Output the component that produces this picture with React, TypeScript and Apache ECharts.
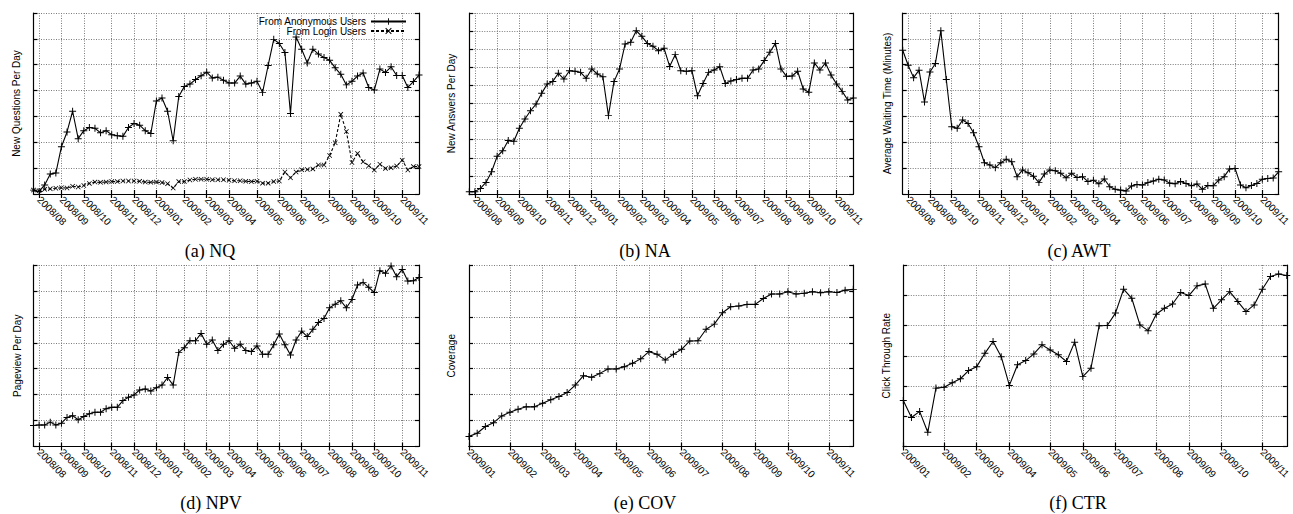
import React, { useEffect, useRef } from "react";
import * as echarts from "echarts";

const FONT = '"Liberation Sans", Arial, Helvetica, sans-serif';
const SERIF = '"Liberation Serif", "Times New Roman", serif';

// Weekly categories
const weeksLong = Array.from({ length: 70 }, (_, i) => `W${i + 1}`);
const weeksShort = Array.from({ length: 48 }, (_, i) => `W${i + 1}`);

// Month ticks (week index where each month starts)
const monthWeeksLong = [1, 5, 9, 14, 18, 22, 27, 31, 35, 40, 44, 48, 53, 57, 61, 66];
const monthLabelsLong = [
  "2008/08", "2008/09", "2008/10", "2008/11", "2008/12", "2009/01", "2009/02", "2009/03",
  "2009/04", "2009/05", "2009/06", "2009/07", "2009/08", "2009/09", "2009/10", "2009/11",
];
const monthWeeksShort = [0, 5, 9, 13, 18, 22, 26, 31, 35, 39, 44];
const monthLabelsShort = [
  "2009/01", "2009/02", "2009/03", "2009/04", "2009/05", "2009/06",
  "2009/07", "2009/08", "2009/09", "2009/10", "2009/11",
];

// (a) NQ
const nqAnonymous = [
  0.15, 0.1, 0.35, 0.77, 0.81, 1.83, 2.4, 3.2, 2.14, 2.45,
  2.57, 2.54, 2.37, 2.45, 2.29, 2.25, 2.23, 2.57, 2.73, 2.66,
  2.45, 2.34, 3.6, 3.71, 3.2, 2.06, 3.77, 4.16, 4.25, 4.43,
  4.57, 4.71, 4.49, 4.52, 4.4, 4.29, 4.29, 4.56, 4.25, 4.29,
  4.36, 3.93, 4.97, 5.98, 5.82, 5.47, 3.11, 6.07, 5.6, 5.07,
  5.6, 5.41, 5.28, 5.17, 4.88, 4.63, 4.22, 4.36, 4.56, 4.68,
  4.12, 4.02, 4.83, 4.7, 4.92, 4.58, 4.58, 4.12, 4.35, 4.6,
];
const nqLogin = [
  0.15, 0.13, 0.18, 0.2, 0.22, 0.24, 0.23, 0.3, 0.27, 0.33,
  0.41, 0.46, 0.45, 0.46, 0.48, 0.48, 0.5, 0.5, 0.5, 0.49,
  0.46, 0.45, 0.46, 0.44, 0.4, 0.23, 0.48, 0.48, 0.54, 0.57,
  0.57, 0.57, 0.55, 0.55, 0.55, 0.53, 0.51, 0.51, 0.49, 0.48,
  0.49, 0.42, 0.42, 0.48, 0.5, 0.85, 0.63, 0.85, 0.94, 0.95,
  0.97, 1.12, 1.12, 1.49, 1.98, 3.08, 2.42, 1.22, 1.57, 1.25,
  1.09, 0.93, 1.15, 0.99, 1.02, 1.08, 1.31, 0.93, 1.06, 1.06,
];
// (b) NA
const naValues = [
  0.13, 0.13, 0.31, 0.64, 1.23, 2.08, 2.39, 2.95, 2.91, 3.63,
  4.14, 4.6, 4.97, 5.56, 6.08, 6.22, 6.67, 6.35, 6.81, 6.78,
  6.72, 6.39, 6.91, 6.63, 6.48, 4.33, 6.21, 6.91, 8.29, 8.38,
  9.02, 8.71, 8.32, 8.16, 7.92, 8.05, 7.05, 7.7, 6.81, 6.78,
  6.81, 5.43, 6.11, 6.72, 6.85, 7.03, 6.11, 6.24, 6.32, 6.39,
  6.39, 6.85, 6.91, 7.37, 7.83, 8.32, 6.91, 6.5, 6.52, 6.78,
  5.8, 5.62, 7.24, 6.85, 7.24, 6.57, 6.08, 5.67, 5.19, 5.3,
];
// (c) AWT
const awtValues = [
  5.56, 4.98, 4.5, 4.79, 3.56, 4.72, 5.05, 6.31, 4.43, 2.6,
  2.54, 2.86, 2.73, 2.37, 1.83, 1.21, 1.12, 1.02, 1.21, 1.34,
  1.25, 0.67, 0.93, 0.82, 0.69, 0.44, 0.77, 0.93, 0.9, 0.8,
  0.63, 0.8, 0.64, 0.67, 0.48, 0.53, 0.4, 0.58, 0.28, 0.18,
  0.15, 0.12, 0.31, 0.37, 0.35, 0.44, 0.5, 0.57, 0.54, 0.42,
  0.4, 0.48, 0.41, 0.32, 0.39, 0.18, 0.33, 0.32, 0.54, 0.67,
  0.97, 0.99, 0.35, 0.24, 0.33, 0.41, 0.57, 0.6, 0.62, 0.86,
];
// (d) NPV
const npvValues = [
  0.81, 0.83, 0.83, 0.94, 0.83, 0.9, 1.12, 1.19, 1.03, 1.16,
  1.26, 1.32, 1.32, 1.46, 1.51, 1.51, 1.77, 1.9, 1.99, 2.18,
  2.22, 2.14, 2.27, 2.37, 2.66, 2.37, 3.63, 3.81, 4.08, 4.08,
  4.36, 3.94, 4.11, 3.7, 3.94, 4.08, 3.79, 3.94, 3.7, 3.66,
  3.88, 3.56, 3.56, 3.92, 4.34, 3.92, 3.53, 4.11, 4.45, 4.24,
  4.52, 4.78, 4.94, 5.35, 5.49, 5.62, 5.35, 5.67, 6.23, 6.33,
  6.14, 5.94, 6.78, 6.68, 6.96, 6.55, 6.83, 6.38, 6.39, 6.52,
];
// (e) COV
const covValues = [
  0.39, 0.51, 0.77, 0.92, 1.18, 1.32, 1.44, 1.53, 1.53, 1.67,
  1.8, 1.93, 2.08, 2.37, 2.73, 2.67, 2.82, 2.99, 2.99, 3.08,
  3.21, 3.38, 3.66, 3.56, 3.34, 3.56, 3.75, 4.07, 4.08, 4.52,
  4.72, 5.16, 5.39, 5.42, 5.48, 5.48, 5.71, 5.88, 5.88, 5.97,
  5.88, 5.91, 5.97, 5.93, 5.97, 5.94, 6.03, 6.06,
];
// (f) CTR
const ctrValues = [
  1.52, 0.96, 1.16, 0.47, 1.93, 1.96, 2.11, 2.24, 2.51, 2.64,
  3.08, 3.47, 2.97, 2.02, 2.7, 2.84, 3.06, 3.36, 3.19, 3.03,
  2.81, 3.45, 2.31, 2.59, 3.99, 4.0, 4.41, 5.2, 4.9, 4.02,
  3.83, 4.37, 4.57, 4.71, 5.09, 4.99, 5.31, 5.37, 4.57, 4.85,
  5.12, 4.79, 4.46, 4.68, 5.2, 5.62, 5.7, 5.65,
];

const PLUS = "path://M4.3,0H5.7V10H4.3Z M0,4.3H10V5.7H0Z";
const CROSS = "path://M0,1.1L1.1,0L10,8.9L8.9,10Z M8.9,0L10,1.1L1.1,10L0,8.9Z";

type S = { name: string; data: number[]; symbol: string; size: number; dashed?: boolean };
type Panel = {
  left: number; top: number; width: number; height: number;
  cats: string[]; ticks: number[]; tickLabels: string[];
  yMax: number; yName: string; nameGap: number;
  caption: string; capX: number; capY: number;
  series: S[];
};

const panels: Panel[] = [
  {
    left: 33.5, top: 13, width: 385.5, height: 181, cats: weeksLong, ticks: monthWeeksLong, tickLabels: monthLabelsLong,
    yMax: 7, yName: "New Questions Per Day", nameGap: 12, caption: "(a) NQ", capX: 210, capY: 251,
    series: [
      { name: "From Anonymous Users", data: nqAnonymous, symbol: PLUS, size: 7 },
      { name: "From Login Users", data: nqLogin, symbol: CROSS, size: 5, dashed: true },
    ],
  },
  {
    left: 469.3, top: 13, width: 384, height: 181, cats: weeksLong, ticks: monthWeeksLong, tickLabels: monthLabelsLong,
    yMax: 10, yName: "New Answers Per Day", nameGap: 13, caption: "(b) NA", capX: 645, capY: 251,
    series: [{ name: "NA", data: naValues, symbol: PLUS, size: 7 }],
  },
  {
    left: 902.7, top: 13, width: 385.6, height: 181, cats: weeksLong, ticks: monthWeeksLong, tickLabels: monthLabelsLong,
    yMax: 7, yName: "Average Waiting Time (Minutes)", nameGap: 10.5, caption: "(c) AWT", capX: 1079, capY: 251,
    series: [{ name: "AWT", data: awtValues, symbol: PLUS, size: 7 }],
  },
  {
    left: 33.5, top: 265, width: 385.5, height: 181.5, cats: weeksLong, ticks: monthWeeksLong, tickLabels: monthLabelsLong,
    yMax: 7, yName: "Pageview Per Day", nameGap: 11.5, caption: "(d) NPV", capX: 211, capY: 503,
    series: [{ name: "NPV", data: npvValues, symbol: PLUS, size: 7 }],
  },
  {
    left: 469, top: 265, width: 384.3, height: 181.5, cats: weeksShort, ticks: monthWeeksShort, tickLabels: monthLabelsShort,
    yMax: 7, yName: "Coverage", nameGap: 13, caption: "(e) COV", capX: 645, capY: 503,
    series: [{ name: "COV", data: covValues, symbol: PLUS, size: 7 }],
  },
  {
    left: 903.3, top: 265, width: 385, height: 181.5, cats: weeksShort, ticks: monthWeeksShort, tickLabels: monthLabelsShort,
    yMax: 6, yName: "Click Through Rate", nameGap: 11.5, caption: "(f) CTR", capX: 1078, capY: 503,
    series: [{ name: "CTR", data: ctrValues, symbol: PLUS, size: 7 }],
  },
];

const GRID_LINE = { color: "#7a7a7a", type: [1, 1.5] as number[], width: 1 };
const AXIS_LINE = { color: "#000", width: 1.2 };

function buildOption() {
  const grid: any[] = [];
  const xAxis: any[] = [];
  const yAxis: any[] = [];
  const series: any[] = [];
  const graphic: any[] = [];

  panels.forEach((p, k) => {
    grid.push({ left: p.left, top: p.top, width: p.width, height: p.height, containLabel: false });
    const labelMap = new Map<number, string>(p.ticks.map((t, j) => [t, p.tickLabels[j]]));
    const isTick = (i: number) => labelMap.has(i);
    xAxis.push({
      type: "category", gridIndex: k, data: p.cats, boundaryGap: false, position: "bottom",
      axisLine: { show: true, lineStyle: AXIS_LINE },
      axisTick: { show: true, inside: true, length: 4, interval: isTick, lineStyle: AXIS_LINE },
      axisLabel: {
        show: true, interval: isTick, rotate: -45, margin: 4, fontSize: 10, fontFamily: FONT, color: "#000",
        formatter: (_v: string, i: number) => labelMap.get(i) ?? "",
      },
      splitLine: { show: true, interval: isTick, lineStyle: GRID_LINE },
    });
    xAxis.push({
      type: "category", gridIndex: k, data: p.cats, boundaryGap: false, position: "top",
      axisLine: { show: true, lineStyle: AXIS_LINE },
      axisTick: { show: true, inside: true, length: 4, interval: isTick, lineStyle: AXIS_LINE },
      axisLabel: { show: false },
      splitLine: { show: false },
    });
    yAxis.push({
      type: "value", gridIndex: k, min: 0, max: p.yMax, interval: 1, position: "left",
      name: p.yName, nameLocation: "middle", nameRotate: 90, nameGap: p.nameGap,
      nameTextStyle: { fontSize: 10, fontFamily: FONT, color: "#000" },
      axisLine: { show: true, lineStyle: AXIS_LINE },
      axisTick: { show: true, inside: true, length: 4, lineStyle: AXIS_LINE },
      axisLabel: { show: false },
      splitLine: { show: true, lineStyle: GRID_LINE },
    });
    yAxis.push({
      type: "value", gridIndex: k, min: 0, max: p.yMax, interval: 1, position: "right",
      axisLine: { show: true, lineStyle: AXIS_LINE },
      axisTick: { show: true, inside: true, length: 4, lineStyle: AXIS_LINE },
      axisLabel: { show: false },
      splitLine: { show: false },
    });
    p.series.forEach((s) => {
      series.push({
        type: "line", name: s.name, xAxisIndex: 2 * k, yAxisIndex: 2 * k, data: s.data,
        symbol: s.symbol, symbolSize: s.size, showAllSymbol: true,
        lineStyle: { color: "#000", width: 1.1, type: s.dashed ? [3, 2] : "solid" },
        itemStyle: { color: "#000", borderWidth: 0 },
        emphasis: { disabled: true }, silent: true,
      });
    });
    graphic.push({
      type: "text", x: p.capX, y: p.capY, silent: true,
      style: {
        text: p.caption, fontSize: 18, fontFamily: SERIF, fill: "#000",
        align: "center", verticalAlign: "middle", textAlign: "center", textVerticalAlign: "middle",
      },
    });
  });

  const legendBase = {
    orient: "horizontal", align: "right", right: 886, itemWidth: 35, itemHeight: 8, padding: 0,
    selectedMode: false, textStyle: { fontSize: 10, fontFamily: FONT, color: "#000" },
  };

  return {
    animation: false,
    backgroundColor: "#fff",
    grid, xAxis, yAxis, series, graphic,
    legend: [
      { ...legendBase, top: 16.5, data: ["From Anonymous Users"] },
      { ...legendBase, top: 26, data: ["From Login Users"] },
    ],
  };
}

export default function App() {
  const ref = useRef<HTMLDivElement>(null);
  useEffect(() => {
    if (!ref.current) return;
    const chart = echarts.init(ref.current, undefined, { renderer: "svg" });
    chart.setOption(buildOption() as any);
    return () => chart.dispose();
  }, []);
  return (
    <div
      ref={ref}
      style={{ position: "absolute", left: 0, top: 0, width: 1293, height: 514, background: "#fff" }}
    />
  );
}
